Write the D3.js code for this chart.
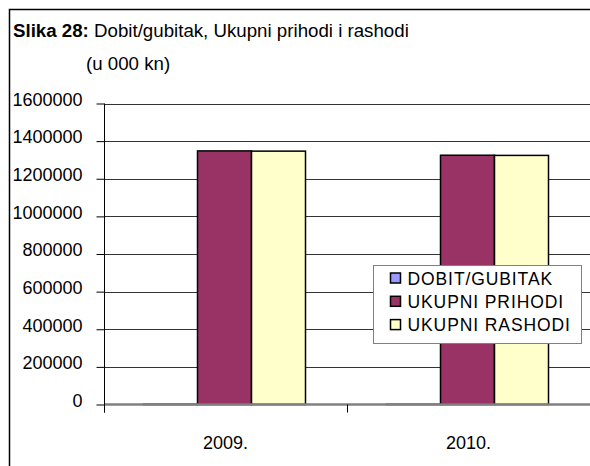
<!DOCTYPE html>
<html>
<head>
<meta charset="utf-8">
<script src="https://cdn.jsdelivr.net/npm/d3@7"></script>
<style>
  body { margin: 0; background: #fff; overflow: hidden; }
  svg { display: block; }
  svg text { font-family: "Liberation Sans", Arial, sans-serif; fill: #000; }
</style>
</head>
<body>
<script>
// podaci (u 000 kn)
const years = ['2009.', '2010.'];
const series = ['DOBIT/GUBITAK', 'UKUPNI PRIHODI', 'UKUPNI RASHODI'];
const dobit = [1200, 900];
const prihodi = [1348000, 1325000];
const rashodi = [1346800, 1324100];
const yTicks = [0, 200000, 400000, 600000, 800000, 1000000, 1200000, 1400000, 1600000];

const colors = ['#9999ff', '#993366', '#ffffcc'];

const WIDTH = 590;
const HEIGHT = 466;

const rows = years.map((y, i) => ({ year: y, values: [dobit[i], prihodi[i], rashodi[i]] }));

let svg = d3.select('body').append('svg')
    .attr('width', WIDTH)
    .attr('height', HEIGHT);

// okvir (samo gornji i lijevi rub su vidljivi)
svg.append('path')
    .attr('d', 'M9.5,' + (HEIGHT + 10) + 'V9.5H' + (WIDTH + 10))
    .attr('fill', 'none')
    .attr('stroke', '#000')
    .attr('stroke-width', 1.5);

// naslov
let title = svg.append('text').attr('x', 13).attr('y', 37).style('font-size', '18.7px');
title.append('tspan').style('font-weight', 'bold').text('Slika 28:');
title.append('tspan').text(' Dobit/gubitak, Ukupni prihodi i rashodi');

svg.append('text')
    .attr('x', 86).attr('y', 70)
    .style('font-size', '18.7px')
    .text('(u 000 kn)');

const pLeft = 104, pRight = 590, pTop = 103.5, pBottom = 404.5;

let y = d3.scaleLinear().domain([0, 1600000]).range([pBottom, pTop]);
let x0 = d3.scaleBand().domain(years).range([pLeft, pRight]).padding(0);
const bw = x0.bandwidth();
let x1 = d3.scaleBand().domain(series).range([bw / 6 - 1, bw * 5 / 6 - 1]).padding(0);

// mreza
svg.append('g')
    .selectAll('line')
    .data(yTicks.filter(d => d > 0))
    .join('line')
    .attr('x1', pLeft).attr('x2', pRight)
    .attr('y1', d => Math.round(y(d)) + 0.5)
    .attr('y2', d => Math.round(y(d)) + 0.5)
    .attr('stroke', '#333')
    .attr('stroke-width', 1);

// stupci
let groups = svg.append('g')
    .selectAll('g')
    .data(rows)
    .join('g')
    .attr('transform', d => `translate(${x0(d.year)},0)`);

groups.selectAll('rect')
    .data(d => d.values.map((v, i) => ({ s: series[i], v: v, c: colors[i] })))
    .join('rect')
    .attr('x', d => x1(d.s))
    .attr('y', d => y(d.v))
    .attr('width', x1.bandwidth())
    .attr('height', d => y(0) - y(d.v))
    .attr('fill', d => d.c)
    .attr('stroke', '#000')
    .attr('stroke-width', 1.5);

// os x (nula)
svg.append('line')
    .attr('x1', pLeft).attr('x2', pRight)
    .attr('y1', y(0)).attr('y2', y(0))
    .attr('stroke', '#808080')
    .attr('stroke-width', 2.5);

// kvacice na x osi
svg.append('g')
    .selectAll('line')
    .data(years.map(d => x0(d)))
    .join('line')
    .attr('x1', d => Math.round(d) + 0.5).attr('x2', d => Math.round(d) + 0.5)
    .attr('y1', y(0)).attr('y2', y(0) + 8)
    .attr('stroke', '#000');

svg.append('g')
    .selectAll('text')
    .data(years)
    .join('text')
    .attr('x', d => x0(d) + bw / 2)
    .attr('y', 449)
    .attr('text-anchor', 'middle')
    .style('font-size', '18px')
    .text(d => d);

// os y
let yAxis = d3.axisLeft(y)
    .tickValues(yTicks)
    .tickSize(8)
    .tickPadding(14)
    .tickFormat(d3.format('d'));

let ya = svg.append('g')
    .attr('transform', `translate(${pLeft + 0.5},0)`)
    .call(yAxis);
ya.select('.domain').remove();
ya.selectAll('.tick line').attr('stroke', '#000');
ya.selectAll('.tick text')
    .attr('fill', '#000')
    .attr('dy', '0.1em')
    .style('font-size', '18px')
    .style('font-family', '"Liberation Sans", Arial, sans-serif');

svg.append('line')
    .attr('x1', pLeft + 0.5).attr('x2', pLeft + 0.5)
    .attr('y1', pTop).attr('y2', y(0) + 8)
    .attr('stroke', '#000');

// legenda
let lg = svg.append('g').attr('transform', 'translate(373.5,265.5)');
lg.append('rect')
    .attr('width', 208).attr('height', 78)
    .attr('fill', '#fff')
    .attr('stroke', '#808080');

let items = lg.selectAll('g')
    .data(series)
    .join('g')
    .attr('transform', (d, i) => `translate(17,${12.5 + i * 23.3})`);

items.append('rect')
    .attr('x', 0).attr('y', -5)
    .attr('width', 10).attr('height', 10)
    .attr('fill', (d, i) => colors[i])
    .attr('stroke', '#000')
    .attr('stroke-width', 1.5);

items.append('text')
    .attr('x', 17).attr('y', 6.5)
    .style('font-size', '17.5px')
    .style('letter-spacing', '0.9px')
    .text(d => d);
</script>
</body>
</html>
